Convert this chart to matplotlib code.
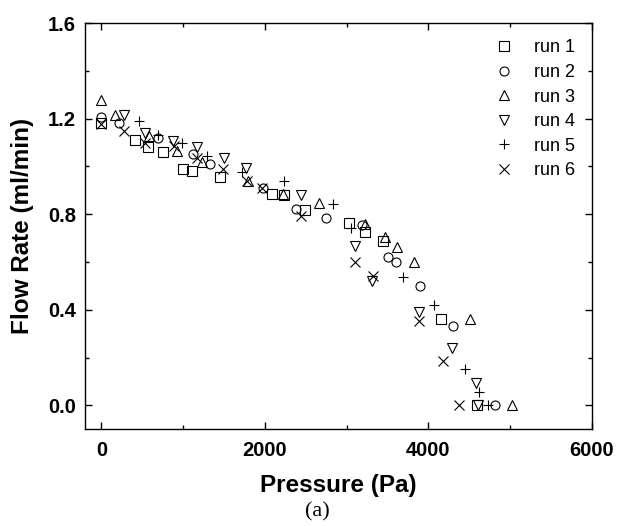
import matplotlib.pyplot as plt
from matplotlib.ticker import MultipleLocator

plt.rcParams['font.family'] = ['Liberation Sans', 'DejaVu Sans']

# run 1 .. run 6, pressure (Pa) and flow rate (ml/min)
run1_p = [0, 415, 570, 760, 1000, 1110, 1450, 2085, 2235, 2490, 3030, 3230, 3445, 4160, 4595]
run1_q = [1.18, 1.11, 1.08, 1.06, 0.99, 0.98, 0.955, 0.886, 0.88, 0.817, 0.764, 0.726, 0.688, 0.36, 0.0]

run2_p = [0, 211, 691, 1126, 1329, 1979, 2386, 2752, 3191, 3504, 3606, 3899, 4305, 4817]
run2_q = [1.205, 1.18, 1.12, 1.052, 1.01, 0.909, 0.821, 0.784, 0.756, 0.621, 0.601, 0.50, 0.333, 0.0]

run3_p = [0, 171, 589, 923, 1228, 1796, 2223, 2660, 3232, 3476, 3613, 3829, 4512, 5020]
run3_q = [1.28, 1.217, 1.129, 1.066, 1.017, 0.94, 0.884, 0.849, 0.758, 0.705, 0.663, 0.601, 0.36, 0.0]

run4_p = [272, 537, 882, 1167, 1500, 1765, 2440, 3098, 3313, 3882, 4290, 4582, 4610]
run4_q = [1.217, 1.14, 1.108, 1.08, 1.035, 0.993, 0.882, 0.667, 0.52, 0.39, 0.238, 0.094, 0.0]

run5_p = [467, 699, 984, 1296, 1716, 2235, 2833, 3057, 3687, 4073, 4451, 4622, 4735]
run5_q = [1.19, 1.132, 1.097, 1.045, 0.975, 0.94, 0.842, 0.744, 0.537, 0.42, 0.152, 0.056, 0.0]

run6_p = [0, 272, 537, 890, 1167, 1491, 1777, 1960, 2437, 3098, 3321, 3882, 4183, 4378]
run6_q = [1.178, 1.147, 1.097, 1.086, 1.035, 0.989, 0.94, 0.909, 0.793, 0.60, 0.541, 0.353, 0.187, 0.0]

runs = [(run1_p, run1_q, 's', 'run 1'),
        (run2_p, run2_q, 'o', 'run 2'),
        (run3_p, run3_q, '^', 'run 3'),
        (run4_p, run4_q, 'v', 'run 4'),
        (run5_p, run5_q, '+', 'run 5'),
        (run6_p, run6_q, 'x', 'run 6')]

fig = plt.figure(figsize=(6.18, 5.26), dpi=100)
ax = fig.add_axes([0.1375, 0.184, 0.82, 0.772])

for p, q, m, lab in runs:
    ms = 7.5 if m in '+x' else 6.5
    ax.plot(p, q, linestyle='none', marker=m, markersize=ms, markerfacecolor='none',
            markeredgecolor='black', markeredgewidth=0.8, label=lab)

ax.set_xlim(-200, 6000)
ax.set_ylim(-0.1, 1.6)
ax.xaxis.set_major_locator(MultipleLocator(2000))
ax.xaxis.set_minor_locator(MultipleLocator(1000))
ax.yaxis.set_major_locator(MultipleLocator(0.4))
ax.yaxis.set_minor_locator(MultipleLocator(0.2))
ax.yaxis.set_major_formatter(plt.FormatStrFormatter('%.1f'))
ax.tick_params(which='both', direction='in', top=True, right=True, width=1)
ax.tick_params(which='major', length=5, labelsize=14.5)
ax.tick_params(which='minor', length=3)
ax.tick_params(axis='x', which='major', pad=8.5)
ax.tick_params(axis='y', which='major', pad=6.5)
for lbl in ax.get_xticklabels() + ax.get_yticklabels():
    lbl.set_fontweight('bold')
for s in ax.spines.values():
    s.set_linewidth(1)

ax.set_xlabel('Pressure (Pa)', fontsize=17.5, fontweight='bold', labelpad=10)
ax.set_ylabel('Flow Rate (ml/min)', fontsize=17.5, fontweight='bold', labelpad=10)
fig.text(0.513, 0.018, '(a)', ha='center', fontsize=16, family='Liberation Serif')

ax.legend(loc='upper right', frameon=False, fontsize=13, handlelength=1.6,
          handletextpad=0.9, labelspacing=0.42, borderaxespad=0.5)

fig.savefig('out.png', dpi=100)
